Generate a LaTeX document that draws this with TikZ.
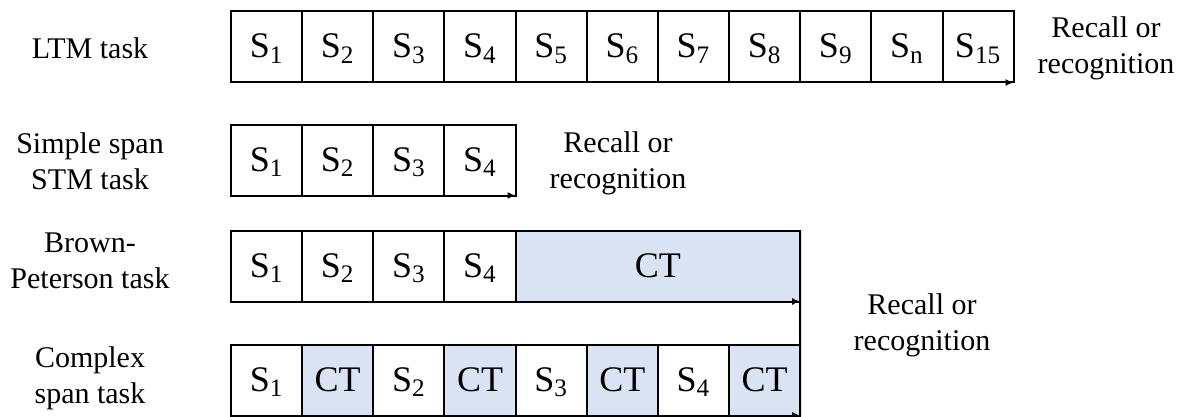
\documentclass[tikz,border=0pt]{standalone}
\usepackage{fontspec}
\setmainfont{Liberation Serif}
\usetikzlibrary{arrows.meta}
\usepackage{xcolor}
\definecolor{ctblue}{RGB}{218,227,243}
\tikzset{
  >=latex,
  cell/.style={draw=black,line width=1pt,minimum width=35.575pt,minimum height=35.5pt,inner sep=0,outer sep=0,
    text height=13pt,text depth=2pt,font=\fontsize{18}{20}\selectfont},
  ct cell/.style={cell,fill=ctblue},
  timeline/.style={line width=1pt,-{Latex[length=4pt,width=3.5pt]}},
  edge/.style={line width=1pt},
  label/.style={font=\fontsize{15}{18}\selectfont,align=center,inner sep=0}
}
\begin{document}
\begin{tikzpicture}[x=0.5pt,y=-0.5pt]
  \useasboundingbox (0,0) rectangle (1187,417);

  % --- LTM task ---
  \foreach \s [count=\i] in {1,2,3,4,5,6,7,8,9,n,15}
    \node[cell] (L\i) at ({231+71.15*(\i-0.5)},47) {S\textsubscript{\s}};
  \draw[timeline] (L1.south west) -- (L11.south east);
  \node[label] (ltm) at (90,48) {LTM task};
  \node[label] (ltm-r) at (1106,48) {Recall or\\recognition};

  % --- Simple span STM task ---
  \foreach \s in {1,2,3,4}
    \node[cell] (S\s) at ({231+71.15*(\s-0.5)},160) {S\textsubscript{\s}};
  \draw[timeline] (S1.south west) -- (S4.south east);
  \node[label] (stm) at (90,161) {Simple span\\STM task};
  \node[label] (stm-r) at (618,163) {Recall or\\recognition};

  % --- Brown-Peterson task ---
  \foreach \s in {1,2,3,4}
    \node[cell] (B\s) at ({231+71.15*(\s-0.5)},266) {S\textsubscript{\s}};
  \node[ct cell, minimum width=142.3pt] (B-ct) at ({231+71.15*6},266) {CT};
  \draw[timeline] (B1.south west) -- (B-ct.south east);
  \node[label] (bp) at (90,261) {Brown-\\Peterson task};

  % --- Complex span task ---
  \foreach \s in {1,2,3,4} {
    \node[cell] (C\s-s) at ({231+71.15*(2*\s-1.5)},380) {S\textsubscript{\s}};
    \node[ct cell] (C\s-ct) at ({231+71.15*(2*\s-0.5)},380) {CT};
  }
  \draw[timeline] (C1-s.south west) -- (C4-ct.south east);
  \node[label] (cs) at (90,378) {Complex\\span task};

  % shared end of Brown-Peterson and complex span
  \draw[edge] (B-ct.north east) -- (C4-ct.south east);
  \node[label] (bc-r) at (922,325) {Recall or\\recognition};

\end{tikzpicture}
\end{document}
